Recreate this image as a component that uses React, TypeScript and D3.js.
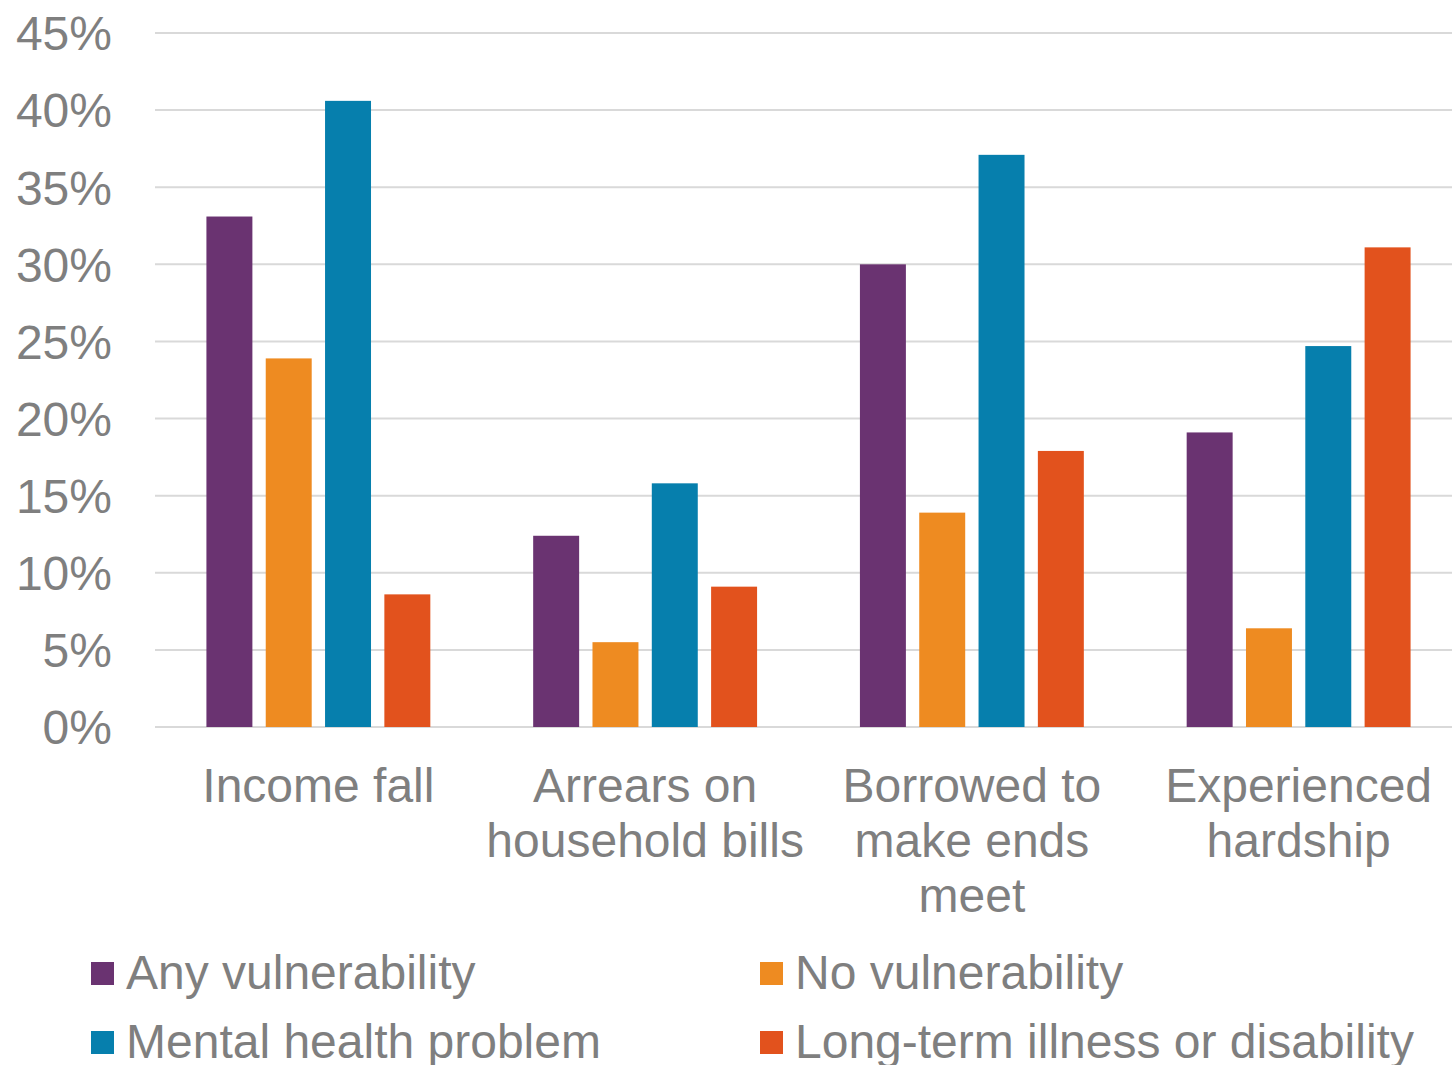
import React from "react";
import * as d3 from "d3";

const categories = ["Income fall", "Arrears on household bills", "Borrowed to make ends meet", "Experienced hardship"];
const categoryLines = [["Income fall"], ["Arrears on", "household bills"], ["Borrowed to", "make ends", "meet"], ["Experienced", "hardship"]];
const seriesNames = ["Any vulnerability", "No vulnerability", "Mental health problem", "Long-term illness or disability"];
const seriesColors = ["#6A3371", "#EE8B21", "#067FAD", "#E2521D"];
const anyVulnerability = [33.1, 12.4, 30.0, 19.1];
const noVulnerability = [23.9, 5.5, 13.9, 6.4];
const mentalHealth = [40.6, 15.8, 37.1, 24.7];
const longTermIllness = [8.6, 9.1, 17.9, 31.1];
const yTicks = [0, 5, 10, 15, 20, 25, 30, 35, 40, 45];

const seriesValues = [anyVulnerability, noVulnerability, mentalHealth, longTermIllness];

const W = 1452;
const H = 1065;
const FONT = "'Liberation Sans', Arial, sans-serif";
const TEXT = "#7F7F7F";

export default function App() {
  const x = d3.scaleBand<string>().domain(categories).range([155, 1462]).padding(0);
  const inner = d3
    .scaleBand<string>()
    .domain(seriesNames)
    .range([0, x.bandwidth()])
    .paddingInner(0.225)
    .paddingOuter(0.867);
  const y = d3.scaleLinear().domain([0, 45]).range([727, 33]);

  const legendPos = [
    { x: 91, y: 962 },
    { x: 760, y: 962 },
    { x: 91, y: 1031 },
    { x: 760, y: 1031 },
  ];

  return (
    <svg width={W} height={H} style={{ position: "absolute", left: 0, top: 0, background: "#fff" }} fontFamily={FONT}>
      <rect x={0} y={0} width={W} height={H} fill="#fff" />
      {yTicks.map((t) => (
        <g key={t}>
          <line x1={155} x2={1462} y1={y(t)} y2={y(t)} stroke="#D9D9D9" strokeWidth={2} />
          <text x={112} y={y(t)} dy="0.36em" textAnchor="end" fontSize={48} fill={TEXT}>
            {t}%
          </text>
        </g>
      ))}
      {categories.map((c, ci) => (
        <g key={c}>
          {seriesNames.map((s, si) => {
            const v = seriesValues[si][ci];
            return (
              <rect
                key={s}
                x={(x(c) as number) + (inner(s) as number)}
                y={y(v)}
                width={inner.bandwidth()}
                height={y(0) - y(v)}
                fill={seriesColors[si]}
              />
            );
          })}
          {categoryLines[ci].map((line, li) => (
            <text
              key={li}
              x={(x(c) as number) + x.bandwidth() / 2}
              y={802 + li * 55}
              textAnchor="middle"
              fontSize={48}
              fill={TEXT}
            >
              {line}
            </text>
          ))}
        </g>
      ))}
      {seriesNames.map((s, si) => (
        <g key={s}>
          <rect x={legendPos[si].x} y={legendPos[si].y} width={23} height={23} fill={seriesColors[si]} />
          <text x={legendPos[si].x + 35} y={legendPos[si].y + 27} fontSize={48} fill={TEXT}>
            {s}
          </text>
        </g>
      ))}
    </svg>
  );
}
